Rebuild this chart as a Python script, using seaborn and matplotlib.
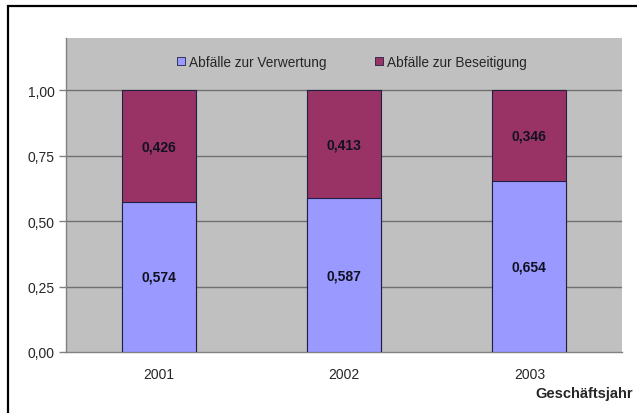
import matplotlib.pyplot as plt
import pandas as pd
import seaborn as sns
from matplotlib.patches import Patch, Rectangle

# Data
years = ["2001", "2002", "2003"]
verwertung = [0.574, 0.587, 0.654]
beseitigung = [0.426, 0.413, 0.346]
y_ticks = [0.0, 0.25, 0.5, 0.75, 1.0]

BLUE = "#9999FF"
MAROON = "#993366"
PLOT_BG = "#C0C0C0"


def _fmt(v: float, digits: int) -> str:
    return f"{v:.{digits}f}".replace(".", ",")


def main():
    sns.set_theme(style="white")
    plt.rcParams["font.family"] = ["Liberation Sans", "DejaVu Sans"]

    df = pd.DataFrame({"year": years, "verwertung": verwertung, "beseitigung": beseitigung})
    df["total"] = df["verwertung"] + df["beseitigung"]

    fig = plt.figure(figsize=(6.37, 4.14), dpi=100)
    W, H = 637, 414
    ax = fig.add_axes([66 / W, (H - 353) / H, (622 - 66) / W, (353 - 39) / H])
    ax.set_facecolor(PLOT_BG)

    # outer frame of the chart area (right and bottom edges fall outside the image)
    fig.patches.append(
        Rectangle((8 / W, -0.05), 1.0, (H - 7) / H + 0.05, transform=fig.transFigure,
                  fill=False, edgecolor="black", linewidth=1.6)
    )

    for y in y_ticks[1:]:
        ax.axhline(y, color="#707070", linewidth=1.0, zorder=1)

    # stacked bars: total in maroon, lower part in blue on top
    sns.barplot(data=df, x="year", y="total", color=MAROON, saturation=1, width=0.4,
                edgecolor="#202040", linewidth=0.8, ax=ax, zorder=2)
    sns.barplot(data=df, x="year", y="verwertung", color=BLUE, saturation=1, width=0.4,
                edgecolor="#202040", linewidth=0.8, ax=ax, zorder=3)

    for i, (v, b) in enumerate(zip(verwertung, beseitigung)):
        ax.text(i, v / 2, _fmt(v, 3), ha="center", va="center", fontsize=10,
                fontweight="bold", color="#111122", zorder=4)
        ax.text(i, v + b / 2, _fmt(b, 3), ha="center", va="center", fontsize=10,
                fontweight="bold", color="#111122", zorder=4)

    ax.set_xlim(-0.5, 2.5)
    ax.set_ylim(0, 1.2)
    ax.set_yticks(y_ticks)
    ax.set_yticklabels([_fmt(t, 2) for t in y_ticks], fontsize=10)
    ax.set_xticks(range(len(years)))
    ax.set_xticklabels(years, fontsize=10)
    ax.set_xticks([0.5, 1.5], minor=True)
    ax.tick_params(axis="x", which="major", length=0, pad=11)
    ax.tick_params(axis="x", which="minor", length=4, direction="out", color="#808080", width=1)
    ax.tick_params(axis="y", length=5, direction="out", color="#808080", width=1, pad=3, left=True)
    ax.set_xlabel("")
    ax.set_ylabel("")

    for side in ["top", "right"]:
        ax.spines[side].set_visible(False)
    for side in ["left", "bottom"]:
        ax.spines[side].set_color("#808080")
        ax.spines[side].set_linewidth(1.0)

    handles = [
        Patch(facecolor=BLUE, edgecolor="#202040", linewidth=0.6, label="Abfälle zur Verwertung"),
        Patch(facecolor=MAROON, edgecolor="#202040", linewidth=0.6, label="Abfälle zur Beseitigung"),
    ]
    ax.legend(handles=handles, loc="center", bbox_to_anchor=(0.514, 0.924), ncol=2,
              frameon=False, fontsize=9.8, handlelength=0.6, handleheight=0.6,
              handletextpad=0.25, columnspacing=3.6)

    fig.text(633 / W, (H - 394) / H, "Geschäftsjahr", ha="right", va="center",
             fontsize=10.5, fontweight="bold")

    fig.savefig("out.png", dpi=100, facecolor="white")
    plt.close(fig)


if __name__ == "__main__":
    main()
